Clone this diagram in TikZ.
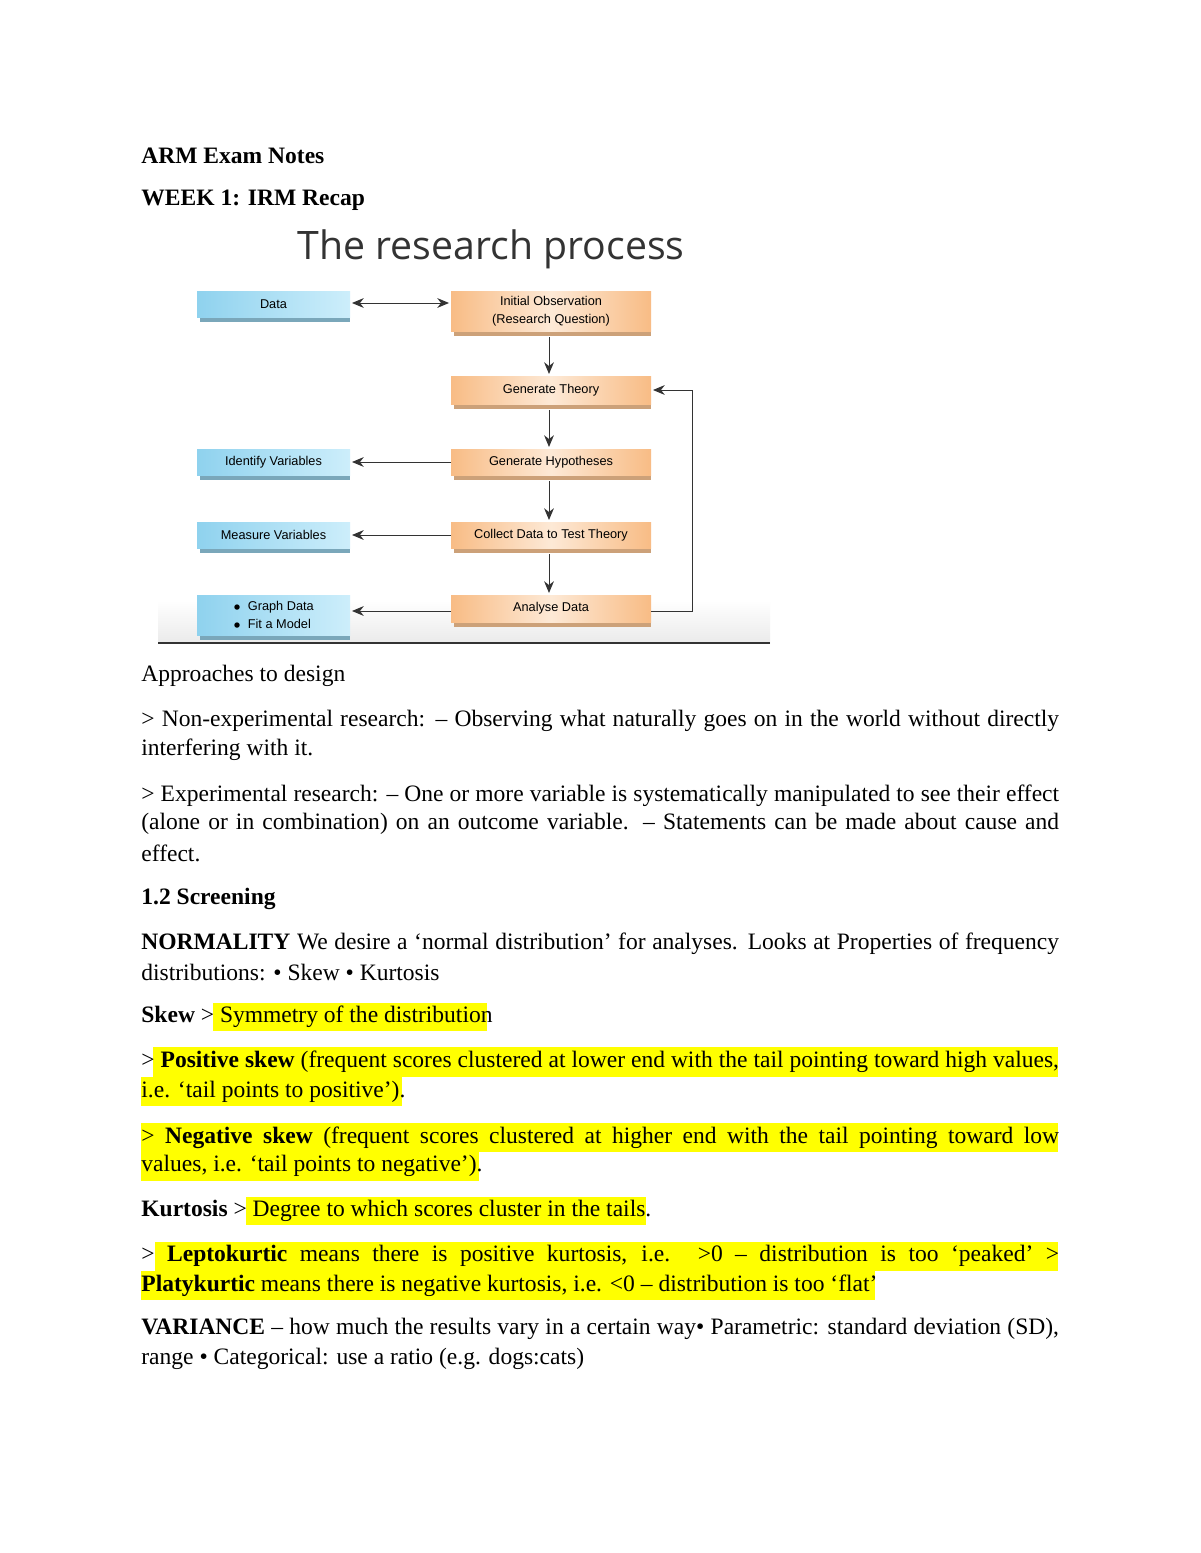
\documentclass[tikz,border=0pt]{standalone}
\usepackage{fontspec}
\setmainfont{Liberation Serif}
\newfontfamily\diagfont{Liberation Sans}
\newfontfamily\titlefont{Open Sans}
\usepackage{xcolor}
\usetikzlibrary{arrows.meta}
\definecolor{orgA}{HTML}{F8BC85}
\definecolor{orgB}{HTML}{FDE9D6}
\definecolor{bluA}{HTML}{8FD2EE}
\definecolor{bluB}{HTML}{CDEEFB}
\definecolor{hlc}{HTML}{FFFF00}
\newcommand{\fl}[1]{\makebox[468pt][s]{#1}}
\begin{document}
\begin{tikzpicture}[x=0.51pt,y=-0.51pt,
  ln/.style={anchor=west,inner sep=0pt,font=\fontsize{12}{15.3}\selectfont},
  head/.style={anchor=west,inner sep=0pt,font=\fontsize{12}{15.3}\selectfont\bfseries},
  obox/.style={draw=none,left color=orgA,right color=orgA,middle color=orgB,inner sep=0pt,font=\diagfont\fontsize{6.5}{9}\selectfont,align=center},
  bbox/.style={draw=none,left color=bluA,right color=bluB,inner sep=0pt,font=\diagfont\fontsize{6.5}{9}\selectfont,align=center},
  arr/.style={-{Stealth[length=6pt,width=5pt]},draw=black!80,line width=0.5pt}]
\useasboundingbox (0,0) rectangle (1200,1553);
\fill[white] (0,0) rectangle (1200,1553);
% headings
\node[head] (h1) at (141,156) {ARM Exam Notes};
\node[head] (h2) at (141,200) {WEEK 1: IRM Recap};
\node[font=\titlefont\fontsize{20}{24}\selectfont,text=black!80] (title) at (491,249) {The research process};
% diagram band
\shade[top color=white,bottom color=black!8] (158,600) rectangle (770,643);
\draw[black!80,line width=0.8pt] (158,643) -- (770,643);
% boxes
\foreach \a/\b/\c/\d in {451/291/651/336, 451/376/651/409, 451/449/651/480, 451/522/651/553, 451/595/651/627}{
  \fill[orgA!80!black!90] (\a+3,\d-5) rectangle (\c,\d);}
\foreach \a/\b/\c/\d in {197/291/350/322, 197/449/350/480, 197/522/350/553, 197/595/350/640}{
  \fill[bluA!75!black!90] (\a+3,\d-5) rectangle (\c,\d);}
\path[obox] (451,291) rectangle (651,331) node[pos=.5] (init) {Initial Observation\\(Research Question)};
\path[obox] (451,376) rectangle (651,404) node[pos=.5] (theory) {Generate Theory};
\path[obox] (451,449) rectangle (651,475) node[pos=.5] (hyp) {Generate Hypotheses};
\path[obox] (451,522) rectangle (651,548) node[pos=.5] (coll) {Collect Data to Test Theory};
\path[obox] (451,595) rectangle (651,622) node[pos=.5] (anal) {Analyse Data};
\path[bbox] (197,291) rectangle (350,317) node[pos=.5] (data) {Data};
\path[bbox] (197,449) rectangle (350,475) node[pos=.5] (ident) {Identify Variables};
\path[bbox] (197,522) rectangle (350,548) node[pos=.5] (meas) {Measure Variables};
\path[bbox] (197,595) rectangle (350,635) node[pos=.5,align=left] (graph) {$\bullet$\ \ Graph Data\\$\bullet$\ \ Fit a Model};
\coordinate (initL) at (449,303); \coordinate (dataR) at (352,303);
\coordinate (fb1) at (692,611); \coordinate (fb2) at (692,390);
\draw[arr,{Stealth[length=6pt,width=5pt]}-{Stealth[length=6pt,width=5pt]}] (dataR) -- (initL);
\draw[arr] (549,337) -- (549,374);
\draw[arr] (549,410) -- (549,447);
\draw[arr] (549,481) -- (549,520);
\draw[arr] (549,554) -- (549,593);
\draw[arr] (451,462) -- (352,462);
\draw[arr] (451,535) -- (352,535);
\draw[arr] (451,611) -- (352,611);
\draw[arr] (651,611) -- (fb1) -- (fb2) -- (653,390);
% highlights
\fill[hlc] (213,1003) rectangle (487,1031);
\fill[hlc] (153,1047) rectangle (1058,1077);
\fill[hlc] (141,1077) rectangle (402,1106);
\fill[hlc] (141,1123) rectangle (1058,1152);
\fill[hlc] (141,1152) rectangle (479,1181);
\fill[hlc] (246,1197) rectangle (646,1225);
\fill[hlc] (155,1242) rectangle (1058,1271);
\fill[hlc] (141,1271) rectangle (875,1300);
% text
\node[ln] (p1) at (141,676) {Approaches to design};
\node[ln] (p2a) at (141,721) {\fl{> Non-experimental research: – Observing what naturally goes on in the world without directly}};
\node[ln] (p2b) at (141,750) {interfering with it.};
\node[ln] (p3a) at (141,796) {\fl{> Experimental research: – One or more variable is systematically manipulated to see their effect}};
\node[ln] (p3b) at (141,824) {\fl{(alone or in combination) on an outcome variable. – Statements can be made about cause and}};
\node[ln] (p3c) at (141,853) {effect.};
\node[head] (h3) at (141,899) {1.2 Screening};
\node[ln] (p4a) at (141,944) {\fl{\textbf{NORMALITY} We desire a ‘normal distribution’ for analyses. Looks at Properties of frequency}};
\node[ln] (p4b) at (141,972) {distributions: • Skew • Kurtosis};
\node[ln] (p5) at (141,1017) {\textbf{Skew} > Symmetry of the distribution};
\node[ln] (p6a) at (141,1062) {\fl{> \textbf{Positive skew} (frequent scores clustered at lower end with the tail pointing toward high values,}};
\node[ln] (p6b) at (141,1092) {i.e. ‘tail points to positive’).};
\node[ln] (p7a) at (141,1138) {\fl{> \textbf{Negative skew} (frequent scores clustered at higher end with the tail pointing toward low}};
\node[ln] (p7b) at (141,1166) {values, i.e. ‘tail points to negative’).};
\node[ln] (p8) at (141,1211) {\textbf{Kurtosis} > Degree to which scores cluster in the tails.};
\node[ln] (p9a) at (141,1256) {\fl{> \textbf{Leptokurtic} means there is positive kurtosis, i.e. >0 – distribution is too ‘peaked’ >}};
\node[ln] (p9b) at (141,1286) {\textbf{Platykurtic} means there is negative kurtosis, i.e. <0 – distribution is too ‘flat’};
\node[ln] (p10a) at (141,1329) {\fl{\textbf{VARIANCE} – how much the results vary in a certain way• Parametric: standard deviation (SD),}};
\node[ln] (p10b) at (141,1359) {range • Categorical: use a ratio (e.g. dogs:cats)};
\end{tikzpicture}
\end{document}
